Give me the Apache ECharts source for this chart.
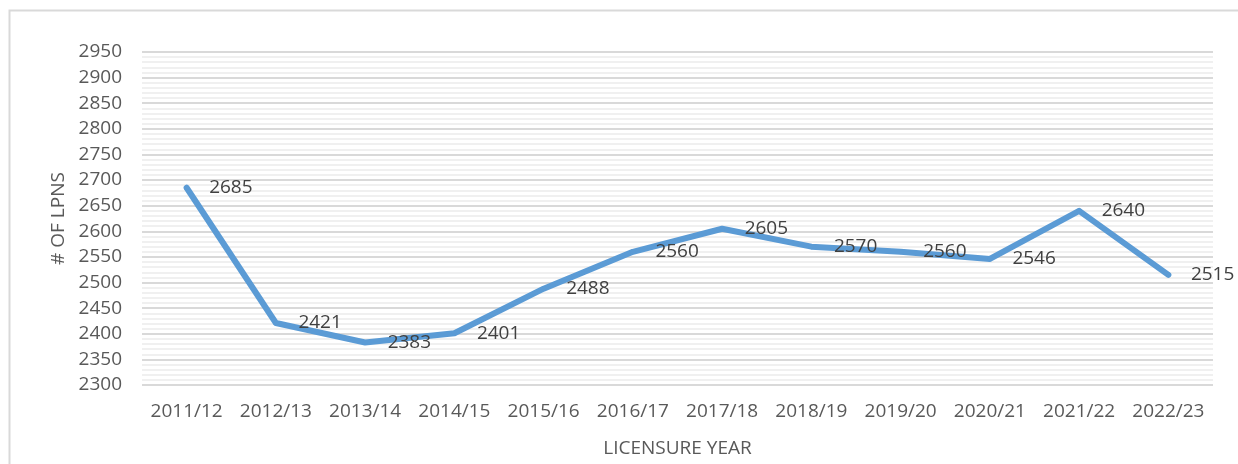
<!DOCTYPE html>
<html>
<head>
<meta charset="utf-8">
<script src="https://cdn.jsdelivr.net/npm/echarts@6/dist/echarts.min.js"></script>
<style>
  html, body { margin: 0; padding: 0; background: #fff; }
  #container { width: 1238px; height: 464px; }
</style>
</head>
<body>
<div id="container"></div>
<script>
var myChart = echarts.init(document.getElementById('container'));

var years = ['2011/12', '2012/13', '2013/14', '2014/15', '2015/16', '2016/17',
             '2017/18', '2018/19', '2019/20', '2020/21', '2021/22', '2022/23'];
var lpns = [2685, 2421, 2383, 2401, 2488, 2560, 2605, 2570, 2560, 2546, 2640, 2515];

var font = '"Open Sans", "Noto Sans", sans-serif';

var option = {
  backgroundColor: '#fff',
  animation: false,
  graphic: [{
    type: 'rect',
    left: 7,
    top: 8,
    shape: { width: 1240, height: 470 },
    style: { fill: 'none', stroke: '#d9d9d9', lineWidth: 2 },
    silent: true
  }],
  grid: {
    left: 142,
    right: 25,
    top: 52,
    bottom: 79
  },
  xAxis: {
    type: 'category',
    data: years,
    boundaryGap: true,
    name: 'LICENSURE YEAR',
    nameLocation: 'middle',
    nameGap: 54,
    nameTextStyle: { color: '#595959', fontFamily: font, fontSize: 19 },
    axisLine: { show: false },
    axisTick: { show: false },
    axisLabel: { color: '#595959', fontFamily: font, fontSize: 19, margin: 17, interval: 0 }
  },
  yAxis: {
    type: 'value',
    min: 2300,
    max: 2950,
    interval: 50,
    name: '# OF LPNS',
    nameLocation: 'middle',
    nameGap: 74,
    nameTextStyle: { color: '#595959', fontFamily: font, fontSize: 19 },
    axisLine: { show: false },
    axisTick: { show: false },
    axisLabel: {
      color: '#595959', fontFamily: font, fontSize: 19, margin: 20,
      formatter: function (v) { return String(v); }
    },
    splitLine: { lineStyle: { color: '#d9d9d9', width: 2 } },
    minorTick: { show: false, splitNumber: 5 },
    minorSplitLine: { show: true, lineStyle: { color: '#f0f0f0', width: 2 } }
  },
  series: [{
    name: '# of LPNs',
    type: 'line',
    data: lpns,
    showSymbol: true,
    symbol: 'circle',
    symbolSize: 5,
    itemStyle: { color: '#5b9bd5' },
    lineStyle: { color: '#5b9bd5', width: 6, cap: 'round', join: 'round' },
    label: {
      show: true,
      position: 'right',
      distance: 20,
      color: '#404040',
      fontFamily: font,
      fontSize: 19
    }
  }]
};

myChart.setOption(option);
</script>
</body>
</html>
